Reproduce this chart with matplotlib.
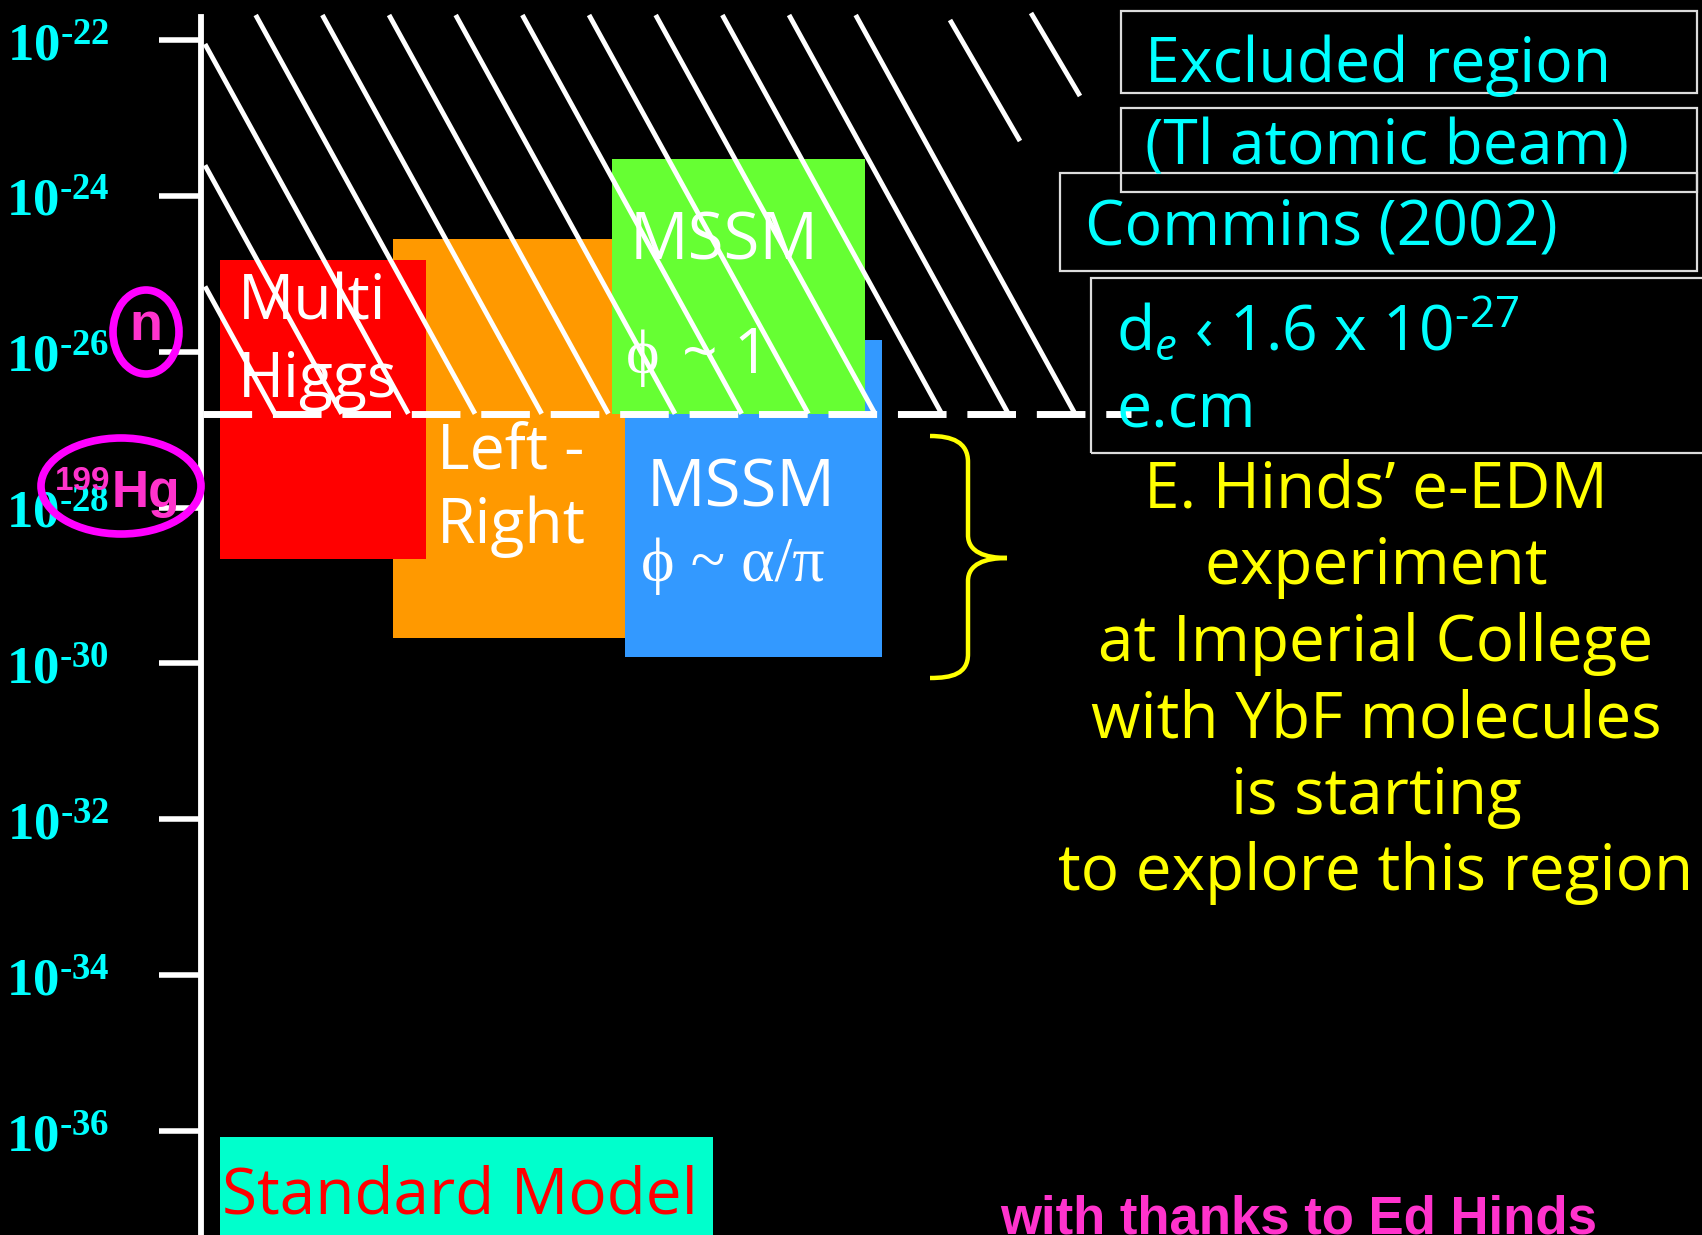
import numpy as np
import matplotlib
matplotlib.use("Agg")
import matplotlib.pyplot as plt
from matplotlib.patches import Rectangle, Ellipse, PathPatch
from matplotlib.path import Path
from matplotlib.ticker import NullLocator

# ---------------- data ----------------
tick_exponents = [-22, -24, -26, -28, -30, -32, -34, -36]
tick_labels = ["$\\mathbf{10^{\u2010%d}}$" % (-e) for e in tick_exponents]

models = ["Multi Higgs", "Left - Right", "MSSM phi~1", "MSSM phi~alpha/pi", "Standard Model"]
edm_upper = [1.5e-25, 2.8e-25, 3.0e-24, 1.4e-26, 8.3e-37]
edm_lower = [2.2e-29, 2.1e-30, 1.6e-27, 1.2e-30, 1.0e-38]
commins_limit = 1.6e-27

# ---------------- layout / style ----------------
W, H = 1702, 1235
PX_PER_DEC = 77.93
E_TOP = -22 + 40.0 / PX_PER_DEC
E_BOT = E_TOP - H / PX_PER_DEC
AXIS_X = 201

box_x = [(220, 426), (393, 625), (612, 865), (625, 882), (220, 713)]
box_colors = ["#FF0000", "#FF9900", "#66FF33", "#3399FF", "#00FFCC"]
box_z = [3, 2, 4, 3, 2]

COMIC = ["Open Sans", "DejaVu Sans"]
SERIF = ["Liberation Serif", "DejaVu Serif"]
ARIALB = ["Liberation Sans", "DejaVu Sans"]

plt.rcParams["mathtext.fontset"] = "custom"
plt.rcParams["mathtext.rm"] = "Open Sans"
plt.rcParams["mathtext.it"] = "Open Sans:italic"
plt.rcParams["mathtext.bf"] = "Liberation Serif:bold"


def fx(px):
    return px / W


def fy(py):
    return 1 - py / H


def py_of(val):
    return (E_TOP - np.log10(val)) * PX_PER_DEC


fig = plt.figure(figsize=(W / 100, H / 100), dpi=100)
fig.patch.set_facecolor("black")
ax = fig.add_axes([0, 0, 1, 1])
ax.set_facecolor("black")
ax.set_xlim(0, W)
ax.set_yscale("log")
ax.set_ylim(10 ** E_BOT, 10 ** E_TOP)

# model boxes
for (x0, x1), lo, hi, c, z in zip(box_x, edm_lower, edm_upper, box_colors, box_z):
    ax.bar(x0, hi - lo, bottom=lo, width=x1 - x0, align="edge", color=c,
           edgecolor="none", zorder=z)

# axis
for s in ["top", "right", "bottom"]:
    ax.spines[s].set_visible(False)
ax.spines["left"].set_position(("data", AXIS_X))
ax.spines["left"].set_color("white")
ax.spines["left"].set_linewidth(4.2)
ax.spines["left"].set_bounds(10 ** E_BOT, 10 ** (E_TOP - 17 / PX_PER_DEC))
ax.spines["left"].set_zorder(6)
ax.set_xticks([])
ax.set_yticks([10.0 ** e for e in tick_exponents])
ax.set_yticklabels(tick_labels)
ax.yaxis.set_minor_locator(NullLocator())
ax.tick_params(axis="y", which="major", direction="out", length=30, width=4,
               color="white", pad=36, labelsize=38, labelcolor="#00FFFF")

# excluded-region hatch (decoration above the Commins limit)
y_lim_px = py_of(commins_limit)
slope = 0.55
top_px = 15
for xb in np.linspace(275, 1075, 13):
    xt = xb - slope * (y_lim_px - top_px)
    yt = top_px
    if xt < AXIS_X + 4:
        xt = AXIS_X + 4
        yt = y_lim_px - (xb - xt) / slope
    ax.plot([fx(xt), fx(xb)], [fy(yt), fy(y_lim_px)], transform=ax.transAxes,
            color="white", lw=3.5, zorder=5, solid_capstyle="butt")
for (xa, ya, xb, yb) in [(950, 20, 1020, 141), (1031, 13, 1080, 96)]:
    ax.plot([fx(xa), fx(xb)], [fy(ya), fy(yb)], transform=ax.transAxes,
            color="white", lw=3.5, zorder=5, solid_capstyle="butt")

# Commins limit dashed line
ax.plot([AXIS_X + 2, 1131], [commins_limit, commins_limit], color="white", lw=5,
        dashes=(7.0, 3.0), dash_capstyle="butt", zorder=6)

# texts in boxes
def T(x, y, s, size=45, color="white", family=COMIC, **kw):
    ax.text(fx(x), fy(y), s, transform=ax.transAxes, ha=kw.pop("ha", "left"),
            va="baseline", fontsize=size, color=color, family=family, zorder=8, **kw)

T(238, 320, "Multi")
T(238, 397, "Higgs")
T(437, 468, "Left -")
T(437, 543, "Right")
T(630, 259, "MSSM", size=47)
T(626, 373, "\u03d5", family=SERIF, size=46)
T(682, 373, "~ 1")
T(647, 507, "MSSM", size=47)
T(641, 581, "\u03d5 ~ \u03b1/\u03c0", family=SERIF, size=46)
T(222, 1213, "Standard Model", color="#FF0000", size=46)

# legend boxes (top right)
frames = [(1121, 11, 1697, 93), (1121, 108, 1697, 192), (1060, 173, 1697, 271),
          (1091, 278, 1710, 453)]
for (x0, y0, x1, y1) in frames:
    ax.add_patch(Rectangle((fx(x0), fy(y1)), fx(x1) - fx(x0), fy(y0) - fy(y1),
                           transform=ax.transAxes, fill=False, edgecolor="#DDDDDD",
                           lw=1.6, zorder=7))
T(1145, 82, "Excluded region", color="#00FFFF")
T(1145, 165, "(Tl atomic beam)", color="#00FFFF")
T(1085, 245, "Commins (2002)", color="#00FFFF")
T(1116, 350, "d$_e$ \u2039 1.6 x 10$^{\u201027}$", color="#00FFFF")
T(1116, 427, "e.cm", color="#00FFFF")

# yellow brace
brace = [(930, 436), (952, 436), (968, 442), (968, 462), (968, 535),
         (968, 552), (985, 558), (1007, 558),
         (985, 558), (968, 564), (968, 581), (968, 654),
         (968, 674), (952, 678), (930, 678)]
codes = [Path.MOVETO, Path.CURVE4, Path.CURVE4, Path.CURVE4, Path.LINETO,
         Path.CURVE4, Path.CURVE4, Path.CURVE4,
         Path.CURVE4, Path.CURVE4, Path.CURVE4, Path.LINETO,
         Path.CURVE4, Path.CURVE4, Path.CURVE4]
ax.add_patch(PathPatch(Path([(fx(a), fy(b)) for a, b in brace], codes),
                       transform=ax.transAxes, fill=False, edgecolor="#FFFF00",
                       lw=3.2, zorder=7))

yellow_lines = ["E. Hinds\u2019 e-EDM", "experiment", "at Imperial College",
                "with YbF molecules", "is starting", "to explore this region"]
for i, s in enumerate(yellow_lines):
    T(1376, 508 + i * 76.4, s, color="#FFFF00", size=46, ha="center")

# n and 199Hg markers
ax.add_patch(Ellipse((fx(146), fy(332)), 66 / W, 84 / H, transform=ax.transAxes,
                     fill=False, edgecolor="#FF00FF", lw=5.5, zorder=9))
T(146, 340, "n", color="#FF33CC", size=39, family=ARIALB, weight="bold", ha="center")
ax.add_patch(Ellipse((fx(121), fy(486)), 160 / W, 96 / H, transform=ax.transAxes,
                     fill=False, edgecolor="#FF00FF", lw=5.5, zorder=9))
T(55, 490, "199", color="#FF33CC", size=24, family=ARIALB, weight="bold")
T(112, 507, "Hg", color="#FF33CC", size=37, family=ARIALB, weight="bold")

T(1000, 1233, "with thanks to Ed Hinds", color="#FF33CC", size=38, family=ARIALB,
  weight="bold")

fig.savefig("out.png", dpi=100, facecolor="black")
